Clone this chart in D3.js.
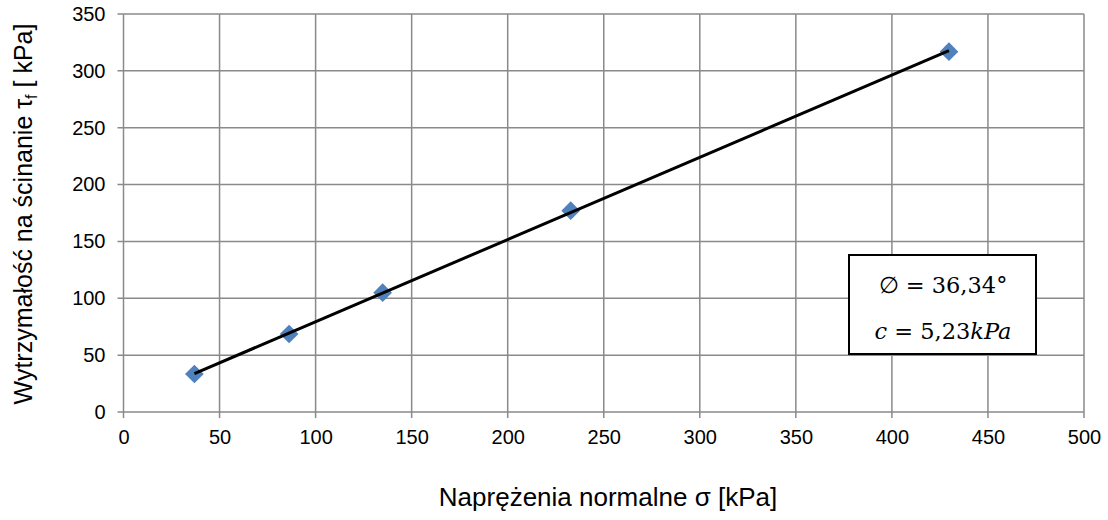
<!DOCTYPE html>
<html>
<head>
<meta charset="utf-8">
<script src="https://cdn.jsdelivr.net/npm/d3@7"></script>
<style>
  html, body { margin: 0; padding: 0; background: #fff; }
  svg { display: block; }
</style>
</head>
<body>
<svg id="chart" width="1108" height="520"></svg>
<script>
// ---- data ----
const sigma = [36.9, 86.2, 134.9, 232.8, 429.7];
const tau   = [33.4, 68.6, 104.9, 177.0, 316.9];
const xTicks = [0, 50, 100, 150, 200, 250, 300, 350, 400, 450, 500];
const yTicks = [0, 50, 100, 150, 200, 250, 300, 350];
const xTitle = "Naprężenia normalne σ [kPa]";
const yTitleMain = "Wytrzymałość na ścinanie τ";
const yTitleSub = "f";
const yTitleEnd = " [ kPa]";
const boxLines = ["∅ = 36,34°", "c = 5,23kPa"];

// ---- layout ----
const svg = d3.select("#chart");
const L = 123.5, R = 1084, T = 14, B = 412;
const x = d3.scaleLinear().domain([0, 500]).range([L, R]);
const y = d3.scaleLinear().domain([0, 350]).range([B, T]);
const gridColor = "#8a8a8a";

// grid lines
svg.append("g").selectAll("line").data(xTicks).join("line")
  .attr("x1", d => x(d)).attr("x2", d => x(d))
  .attr("y1", T).attr("y2", B + 6)
  .attr("stroke", gridColor).attr("stroke-width", 1.5);
svg.append("g").selectAll("line").data(yTicks).join("line")
  .attr("x1", L - 6).attr("x2", R)
  .attr("y1", d => y(d)).attr("y2", d => y(d))
  .attr("stroke", gridColor).attr("stroke-width", 1.5);

// axes labels via d3 axes (labels only)
const font = "Liberation Sans, Arial, sans-serif";
const xAxis = svg.append("g").attr("transform", `translate(0,${B})`)
  .call(d3.axisBottom(x).tickValues(xTicks).tickSize(0).tickPadding(18));
xAxis.select(".domain").remove();
xAxis.selectAll("text").attr("font-family", font).attr("font-size", 20).attr("fill", "#000").attr("dy", "0.71em");
const yAxis = svg.append("g").attr("transform", `translate(${L},0)`)
  .call(d3.axisLeft(y).tickValues(yTicks).tickSize(0).tickPadding(18));
yAxis.select(".domain").remove();
yAxis.selectAll("text").attr("font-family", font).attr("font-size", 20).attr("fill", "#000");

// axis titles
svg.append("text").attr("x", 608).attr("y", 506)
  .attr("text-anchor", "middle").attr("font-family", font).attr("font-size", 26)
  .text(xTitle);
const yt = svg.append("text").attr("transform", "translate(32,214) rotate(-90)")
  .attr("text-anchor", "middle").attr("font-family", font).attr("font-size", 25);
yt.append("tspan").text(yTitleMain);
yt.append("tspan").attr("font-size", 16).attr("dy", 5).text(yTitleSub);
yt.append("tspan").attr("dy", -5).text(yTitleEnd);

// trend line (least squares fit over data range)
const mx = d3.mean(sigma), my = d3.mean(tau);
const sxy = d3.sum(sigma, (v, i) => (v - mx) * (tau[i] - my));
const sxx = d3.sum(sigma, v => (v - mx) * (v - mx));
const slope = sxy / sxx, icpt = my - slope * mx;
const x0 = d3.min(sigma), x1 = d3.max(sigma);

// markers (diamonds)
const diamond = d3.symbol().type(d3.symbolSquare).size(175);
svg.append("g").selectAll("path").data(sigma).join("path")
  .attr("d", diamond)
  .attr("transform", (d, i) => `translate(${x(d)},${y(tau[i])}) rotate(45)`)
  .attr("fill", "#4f81bd");
svg.append("line")
  .attr("x1", x(x0)).attr("y1", y(icpt + slope * x0))
  .attr("x2", x(x1)).attr("y2", y(icpt + slope * x1))
  .attr("stroke", "#000").attr("stroke-width", 3);

// annotation box
svg.append("rect").attr("x", 849).attr("y", 255).attr("width", 187).attr("height", 99)
  .attr("fill", "#fff").attr("stroke", "#000").attr("stroke-width", 2);
const mathFont = "DejaVu Serif, Liberation Serif, serif";
svg.append("text").attr("x", 943).attr("y", 293).attr("text-anchor", "middle")
  .attr("font-family", mathFont).attr("font-size", 22.5).text(boxLines[0]);
const t2 = svg.append("text").attr("x", 943).attr("y", 339).attr("text-anchor", "middle")
  .attr("font-family", mathFont).attr("font-size", 22.5);
const parts2 = boxLines[1].match(/^(c)( = 5,23)(kPa)$/);
t2.append("tspan").attr("font-style", "italic").text(parts2[1]);
t2.append("tspan").text(parts2[2]);
t2.append("tspan").attr("font-style", "italic").text(parts2[3]);
</script>
</body>
</html>
